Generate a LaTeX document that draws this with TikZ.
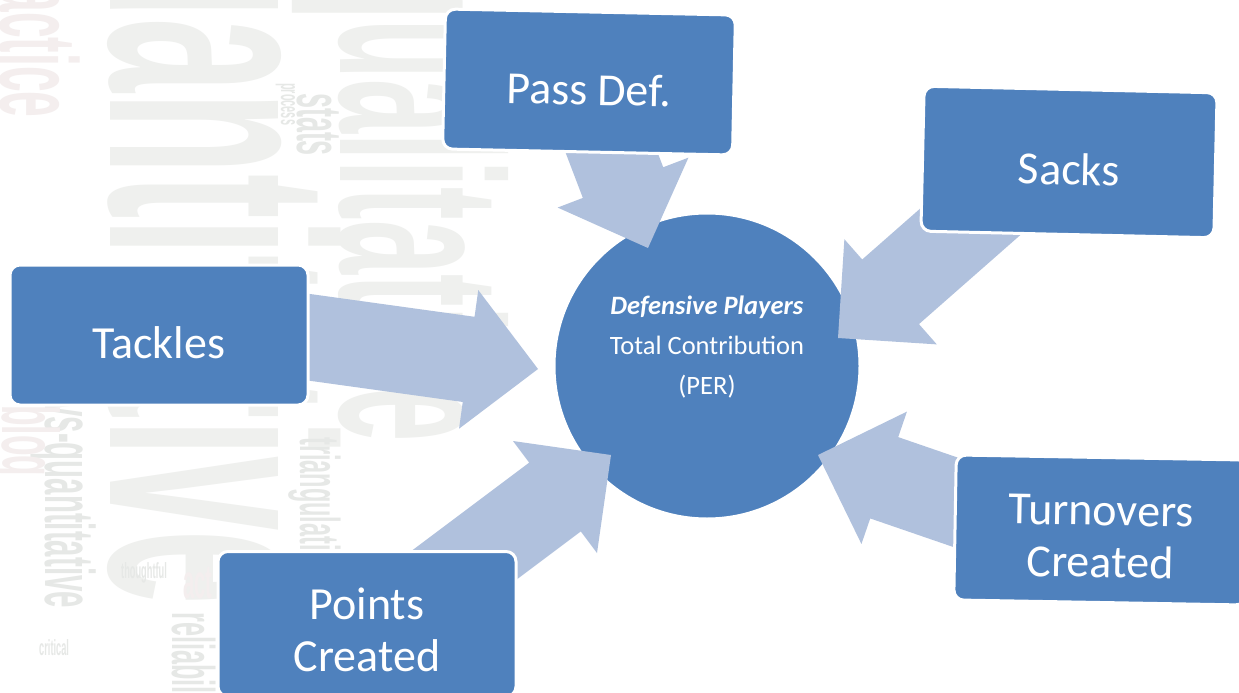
\documentclass[tikz,border=0pt]{standalone}
\usepackage{fontspec}
\setmainfont{Carlito}
\newfontfamily\cloudfont[FakeStretch=0.42]{Liberation Sans}
\usetikzlibrary{calc,positioning}
\definecolor{boxblue}{RGB}{79,129,189}
\definecolor{arrowblue}{RGB}{176,193,221}
\definecolor{cloudgray}{RGB}{239,240,238}
\definecolor{clouddark}{RGB}{230,232,230}
\definecolor{cloudpink}{RGB}{244,238,238}
\pgfdeclarelayer{cloud}
\pgfdeclarelayer{flow}
\pgfsetlayers{cloud,flow,main}
\tikzset{
  statbox/.style={draw=white, line width=3pt, fill=boxblue, rounded corners=10pt,
    minimum width=292pt, minimum height=142pt, text=white, align=center,
    font={\fontsize{46}{52}\selectfont}},
  oneline/.style={text height=46pt, text depth=0pt},
  twoline/.style={text height=95pt, text depth=0pt},
  blockarrow/.style={fill=arrowblue, to path={
    let \p1=($(\tikztotarget)-(\tikztostart)$),
        \n1={atan2(\y1,\x1)}, \n2={veclen(\x1,\y1)-70pt} in
    ($(\tikztostart)+(\n1+90:43pt)$)
    -- ($(\tikztostart)+(\n1:\n2)+(\n1+90:43pt)$)
    -- ($(\tikztostart)+(\n1:\n2)+(\n1+90:70pt)$)
    -- (\tikztotarget)
    -- ($(\tikztostart)+(\n1:\n2)+(\n1-90:70pt)$)
    -- ($(\tikztostart)+(\n1:\n2)+(\n1-90:43pt)$)
    -- ($(\tikztostart)+(\n1-90:43pt)$)
    -- cycle}},
  cloudword/.style={rotate=-90, anchor=base west, inner sep=0pt, text=cloudgray}
}

\begin{document}
\begin{tikzpicture}[x=1pt, y=-1pt]
    \useasboundingbox (0,0) rectangle (1239,693);

    % faded word cloud behind the chart
    \begin{pgfonlayer}{cloud}
    \fill[white] (0,0) rectangle (1239,693);
    \node [cloudword, font={\cloudfont\bfseries\fontsize{318}{318}\selectfont}] (wquant) at (110,-145) {quantitative};
    \node [cloudword, font={\cloudfont\bfseries\fontsize{232}{232}\selectfont}] (wqual) at (340,-40) {qualitative};
    \node [cloudword, text=cloudpink, font={\cloudfont\bfseries\fontsize{110}{110}\selectfont}] (wpract) at (0,-60) {practice};
    \node [cloudword, text=clouddark, font={\cloudfont\bfseries\fontsize{64}{64}\selectfont}] (wstats) at (297,93) {stats};
    \node [cloudword, text=clouddark, font={\cloudfont\bfseries\fontsize{26}{26}\selectfont}] (wproc) at (281,83) {process};
    \node [cloudword, text=clouddark, font={\cloudfont\bfseries\fontsize{56}{56}\selectfont}] (wtri) at (300,437) {triangulation};
    \node [cloudword, text=clouddark, font={\cloudfont\bfseries\fontsize{70}{70}\selectfont}] (wvs) at (45,330) {qual-vs-quantitative};
    \node [cloudword, text=cloudpink, font={\cloudfont\bfseries\fontsize{80}{80}\selectfont}] (wblog) at (2,405) {blog};
    \node [cloudword, text=clouddark, font={\cloudfont\bfseries\fontsize{60}{60}\selectfont}] (wrel) at (172,612) {reliability};
    \node [anchor=base west, inner sep=0pt, text=cloudpink, font={\cloudfont\bfseries\fontsize{48}{48}\selectfont}] (wact) at (183,598) {act};
    \node [anchor=base west, inner sep=0pt, text=clouddark, font={\cloudfont\bfseries\fontsize{22}{22}\selectfont}] (wthou) at (121,578) {thoughtful};
    \node [anchor=base west, inner sep=0pt, text=clouddark, font={\cloudfont\bfseries\fontsize{22}{22}\selectfont}] (wcrit) at (39,655) {critical};

    % centre
    \node [circle, fill=boxblue, draw=white, line width=3pt, minimum size=306pt, inner sep=0pt] (core) at (707,366) {};
    \end{pgfonlayer}

    \node [align=center, text=white, font={\fontsize{26.5}{40}\selectfont}] (coretext) at ($(core.center)+(0,-19)$)
        {\textbf{\textit{Defensive Players}}\\Total Contribution\\(PER)};

    % stat boxes
    \node [statbox, oneline, minimum width=290pt, minimum height=140pt, rotate=-1.2] (pass) at (589,82) {Pass Def.};
    \node [statbox, oneline, minimum width=293pt, minimum height=145pt, rotate=-1.3] (sacks) at (1069,162) {Sacks};
    \node [statbox, oneline, minimum width=298pt, minimum height=140pt] (tackles) at (159,335) {Tackles};
    \node [statbox, twoline, minimum width=298pt, minimum height=145pt] (points) at (367,624) {Points\\Created};
    \node [statbox, twoline, minimum width=292pt, minimum height=145pt, rotate=-1] (turnovers) at (1101,530) {Turnovers\\Created};

    % arrow ends
    \coordinate (passS) at ($(pass.center)+(9,35)$);
    \coordinate (passT) at ($(core.center)+(-59,-118)$);
    \coordinate (sacksS) at ($(sacks.center)+(-58,24)$);
    \coordinate (sacksT) at ($(core.center)+(131,-28)$);
    \coordinate (tacklesS) at ($(tackles.center)+(141,1)$);
    \coordinate (tacklesT) at ($(core.center)+(-169,3)$);
    \coordinate (pointsS) at ($(points.center)+(44,-19)$);
    \coordinate (pointsT) at ($(core.center)+(-96,89)$);
    \coordinate (turnoversS) at ($(turnovers.center)+(-94,-10)$);
    \coordinate (turnoversT) at ($(core.center)+(111,89)$);

    \begin{pgfonlayer}{flow}
    \path [blockarrow] (passS) to (passT);
    \path [blockarrow] (sacksS) to (sacksT);
    \path [blockarrow] (tacklesS) to (tacklesT);
    \path [blockarrow] (pointsS) to (pointsT);
    \path [blockarrow] (turnoversS) to (turnoversT);
    \end{pgfonlayer}

\end{tikzpicture}
\end{document}
